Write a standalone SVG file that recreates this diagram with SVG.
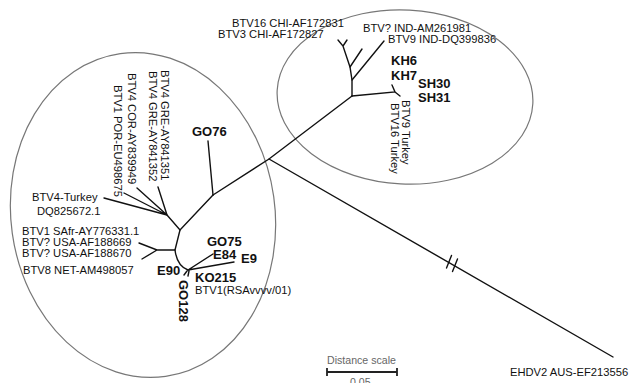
<svg xmlns="http://www.w3.org/2000/svg" width="630" height="383" viewBox="0 0 630 383">
<style>
.t{font-family:"Liberation Sans",Arial,sans-serif;font-size:11.2px;fill:#111}
.b{font-family:"Liberation Sans",Arial,sans-serif;font-size:13px;font-weight:bold;fill:#111}
.g{font-family:"Liberation Sans",Arial,sans-serif;font-size:10.6px;fill:#666}
.br{fill:none;stroke:#111;stroke-width:1.4;stroke-linecap:round}
.el{fill:none;stroke:#777;stroke-width:1.2}
</style>
<rect width="630" height="383" fill="#fff"/>
<g id="clusters">
<ellipse class="el" cx="143" cy="215" rx="132" ry="163" transform="rotate(-8 143 215)"/>
<ellipse class="el" cx="405" cy="97" rx="128" ry="87" transform="rotate(3 405 97)"/>
</g>
<g id="connectors" class="br">
<path d="M213,195 L269,159 L352,96"/>
<path d="M269,159 L613,357"/>
<path d="M446.5,268 L451.5,255.5 M452.5,271.5 L457.5,259"/>
<path d="M352,96 L395,92 L392,85 M395,92 L400,96"/>
<path d="M352,96 L352,80 L350,67 L343,46 L338,40 M343,46 L347,40"/>
<path d="M352,80 L384,41 M350,67 L362,49"/>
<path d="M213,195 L208,141"/>
<path d="M167,215 L180,230 L213,195"/>
<path d="M167,215 L104,198 M167,215 L124,193 M167,215 L137,188 M167,215 L158,187"/>
<path d="M180,230 L175,250 L157,250 L139,243 M157,250 L142,259"/>
<path d="M175,250 Q177,266 188,270 L213,254 M188,270 L234,262 M187,271 L184,275 M189,271 L188,276"/>
</g>
<g id="scale">
<path d="M327,372 L397,372 M327,368 L327,376 M397,368 L397,376" fill="none" stroke="#222" stroke-width="1.8"/>
<text class="g" x="327" y="364">Distance scale</text>
<text class="g" x="350" y="386">0.05</text>
</g>
<g id="labels">
<g id="n-btv1-safr"><text class="t" x="22" y="235">BTV1 SAfr-AY776331.1</text></g>
<g id="n-usa669"><text class="t" x="22" y="246">BTV? USA-AF188669</text></g>
<g id="n-usa670"><text class="t" x="22" y="257">BTV? USA-AF188670</text></g>
<g id="n-btv8"><text class="t" x="23" y="274">BTV8 NET-AM498057</text></g>
<g id="n-btv4-turkey"><text class="t" x="32" y="201">BTV4-Turkey</text><text class="t" x="37" y="215">DQ825672.1</text></g>
<g id="n-gre351"><text class="t" transform="translate(161,70) rotate(90)">BTV4 GRE-AY841351</text></g>
<g id="n-gre352"><text class="t" transform="translate(149,71) rotate(90)">BTV4 GRE-AY841352</text></g>
<g id="n-cor"><text class="t" transform="translate(128,73) rotate(90)">BTV4 COR-AY839949</text></g>
<g id="n-por"><text class="t" transform="translate(114,85) rotate(90)">BTV1 POR-EU498675</text></g>
<g id="n-go76"><text class="b" x="192" y="136">GO76</text></g>
<g id="n-go75"><text class="b" x="207" y="245.5">GO75</text></g>
<g id="n-e84"><text class="b" x="213" y="259">E84</text></g>
<g id="n-e9"><text class="b" x="241" y="263">E9</text></g>
<g id="n-e90"><text class="b" x="157" y="275">E90</text></g>
<g id="n-ko215"><text class="b" x="195" y="282">KO215</text></g>
<g id="n-rsa"><text class="t" x="195" y="294">BTV1(RSAvvvv/01)</text></g>
<g id="n-go128"><text class="b" transform="translate(178.5,280) rotate(90)">GO128</text></g>
<g id="n-chi831"><text class="t" x="232" y="26.5">BTV16 CHI-AF172831</text></g>
<g id="n-chi827"><text class="t" x="218" y="37.5">BTV3 CHI-AF172827</text></g>
<g id="n-ind981"><text class="t" x="363" y="32">BTV? IND-AM261981</text></g>
<g id="n-ind836"><text class="t" x="388" y="43">BTV9 IND-DQ399836</text></g>
<g id="n-kh6"><text class="b" x="391" y="65">KH6</text></g>
<g id="n-kh7"><text class="b" x="391" y="80">KH7</text></g>
<g id="n-sh30"><text class="b" x="418" y="88">SH30</text></g>
<g id="n-sh31"><text class="b" x="418" y="102">SH31</text></g>
<g id="n-btv9-turkey"><text class="t" transform="translate(402,100) rotate(90)">BTV9 Turkey</text></g>
<g id="n-btv16-turkey"><text class="t" transform="translate(391,103) rotate(90)">BTV16 Turkey</text></g>
<g id="n-ehdv"><text class="t" x="510" y="376">EHDV2 AUS-EF213556</text></g>
</g>
</svg>
